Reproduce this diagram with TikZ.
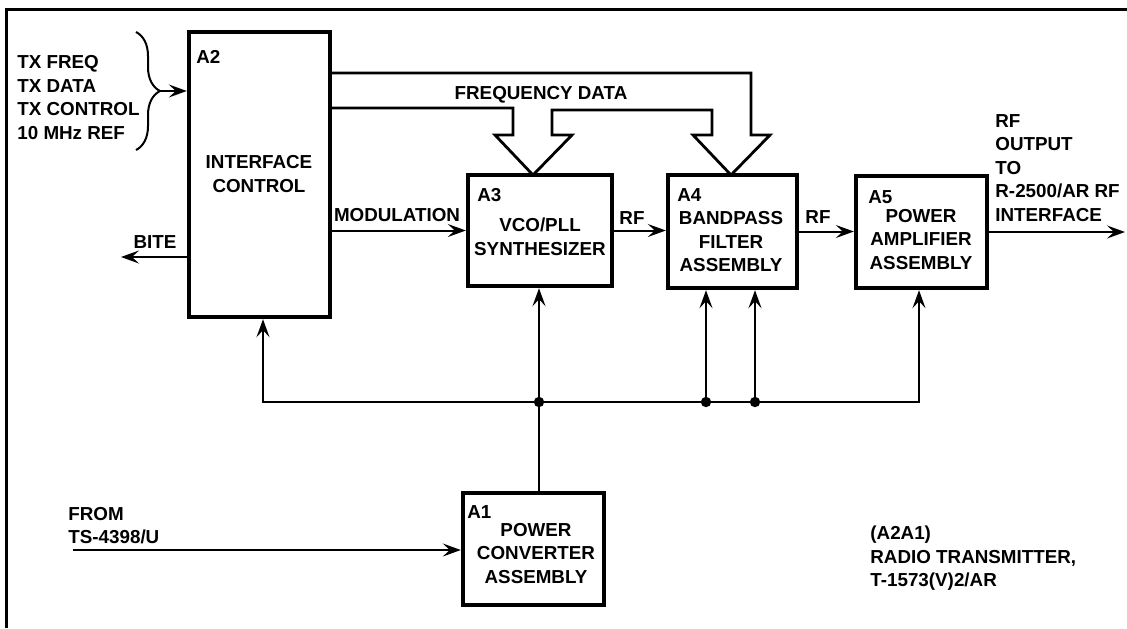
\documentclass[tikz,border=0pt]{standalone}
\usepackage{fontspec}
\setmainfont{Liberation Sans}
\usetikzlibrary{arrows.meta,decorations.pathreplacing}

\begin{document}
\begin{tikzpicture}[x=0.5pt,y=-0.5pt,
  lbl/.style={font=\fontsize{9.4}{11.75}\selectfont\bfseries, inner sep=0pt},
  blk/.style={draw, line width=2.2pt, inner sep=0pt},
  arr/.style={line width=1pt, -{Stealth[length=9pt,width=6.5pt,inset=3.5pt]}},
  wire/.style={line width=1pt}]
\useasboundingbox (0,0) rectangle (1127,628);
\draw[line width=1.5pt] (6,628) -- (6,9) -- (1127,9);

% the assemblies
\node[blk, minimum width=70.5pt, minimum height=142.5pt] (a2) at (259.5,174.5) {};
\node[blk, minimum width=72pt, minimum height=55.5pt] (a3) at (540,230.5) {};
\node[blk, minimum width=64.5pt, minimum height=56.5pt] (a4) at (732.5,231.5) {};
\node[blk, minimum width=65.5pt, minimum height=56pt] (a5) at (921.5,232) {};
\node[blk, minimum width=70.5pt, minimum height=56pt] (a1) at (533.5,549) {};

\node[lbl, anchor=west] (a2id) at (196,57) {A2};
\node[lbl, align=center] (a2txt) at (259,174) {INTERFACE\\CONTROL};
\node[lbl, anchor=west] (a3id) at (477,195) {A3};
\node[lbl, align=center] (a3txt) at (540,237) {VCO/PLL\\SYNTHESIZER};
\node[lbl, anchor=west] (a4id) at (677,195) {A4};
\node[lbl, align=center] (a4txt) at (731,242) {BANDPASS\\FILTER\\ASSEMBLY};
\node[lbl, anchor=west] (a5id) at (868,197) {A5};
\node[lbl, align=center] (a5txt) at (921,239.5) {POWER\\AMPLIFIER\\ASSEMBLY};
\node[lbl, anchor=west] (a1id) at (467,512) {A1};
\node[lbl, align=center] (a1txt) at (536,553.5) {POWER\\CONVERTER\\ASSEMBLY};

% signals in and out
\node[lbl, anchor=west, align=left] (txin) at (17,97.5) {TX FREQ\\TX DATA\\TX CONTROL\\10 MHz REF};
\draw[line width=1pt, decorate, decoration={brace, amplitude=12pt}] (136,32) -- (136,150);
\coordinate (brtip) at (160,91);
\draw[arr] (brtip) -- (brtip -| a2.west);

\coordinate (bite) at (121,257);
\draw[arr] (a2.west |- bite) -- (bite);
\node[lbl] (bitetxt) at (155,242) {BITE};

\draw[arr] (a3.west -| a2.east) -- (a3.west);
\node[lbl] (modtxt) at (397,215) {MODULATION};
\draw[arr] (a3.east) -- (a3.east -| a4.west);
\node[lbl] (rf1) at (632,218) {RF};
\draw[arr] (a4.east) -- (a4.east -| a5.west);
\node[lbl] (rf2) at (818,217) {RF};

\coordinate (rfout) at (1125,228);
\draw[arr] (a5.east) -- (a5.east -| rfout);
\node[lbl, anchor=west, align=left] (outtxt) at (995,168) {RF\\OUTPUT\\TO\\R-2500/AR RF\\INTERFACE};

% frequency data bus
\draw[line width=1.4pt, line join=miter] (a2.east |- 0,73) -- (751,73) -- (751,135) -- (770,135)
  -- (731,175) -- (693,135) -- (712,135) -- (712,110) -- (552,110) -- (552,135) -- (572,135)
  -- (533,175) -- (495,135) -- (513,135) -- (513,108) -- (a2.east |- 0,108);
\node[lbl] (fdtxt) at (541,95) {FREQUENCY DATA};

% power distribution
\coordinate (j1) at (539,402);
\coordinate (j2) at (706,402);
\coordinate (j3) at (755,402);
\draw[arr] (a1.north -| j1) -- (a3.south -| j1);
\draw[arr] (j1) -| (263,0 |- a2.south);
\draw[wire] (j1) -- (j3);
\draw[arr] (j3) -| (919,0 |- a5.south);
\draw[arr] (j2) -- (j2 |- a4.south);
\draw[arr] (j3) -- (j3 |- a4.south);
\foreach \j in {j1,j2,j3}
  \fill (\j) circle (2.6pt);

\coordinate (src) at (73,550);
\draw[arr] (src) -- (src -| a1.west);
\node[lbl, anchor=west, align=left] (srctxt) at (68,525.5) {FROM\\TS-4398/U};

\node[lbl, anchor=west, align=left] (title) at (870,558.5) {(A2A1)\\RADIO TRANSMITTER,\\T-1573(V)2/AR};
\end{tikzpicture}
\end{document}
